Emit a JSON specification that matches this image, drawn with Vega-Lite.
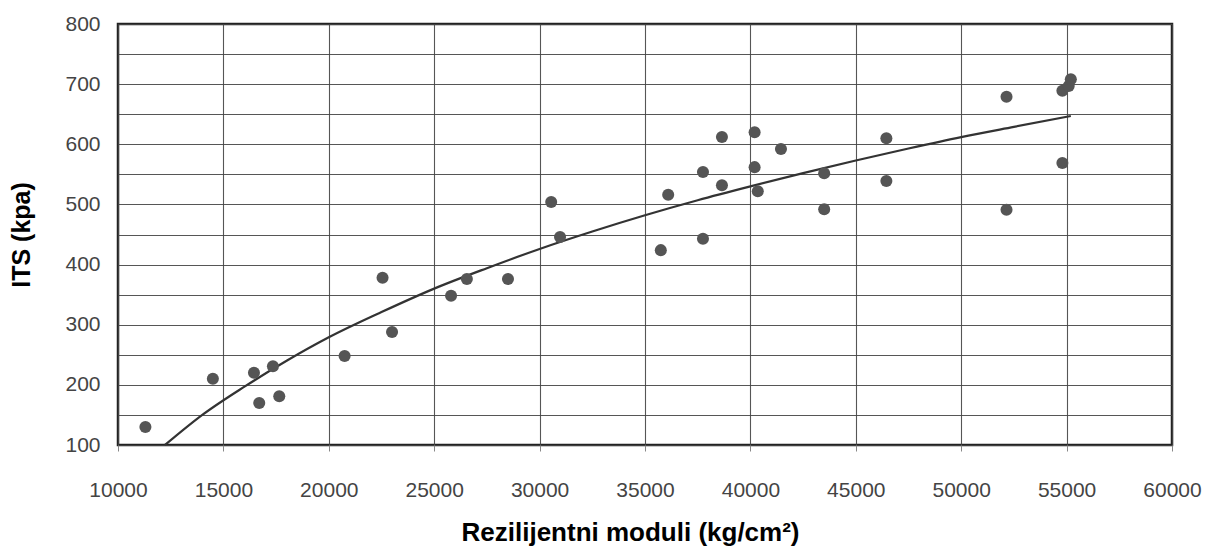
{
  "$schema": "https://vega.github.io/schema/vega-lite/v6.json",
  "width": 1054,
  "height": 421,
  "autosize": "none",
  "padding": {"left": 118, "top": 24, "right": 44, "bottom": 114},
  "background": "white",
  "config": {
    "view": {"stroke": "#222", "strokeWidth": 2.5},
    "font": "Liberation Sans"
  },
  "datasets": {
    "pts": [
      {"m": 11300, "its": 130}, {"m": 14500, "its": 210}, {"m": 16450, "its": 220},
      {"m": 16700, "its": 170}, {"m": 17350, "its": 231}, {"m": 17650, "its": 181},
      {"m": 20750, "its": 248}, {"m": 22550, "its": 378}, {"m": 23000, "its": 288},
      {"m": 25800, "its": 348}, {"m": 26550, "its": 376}, {"m": 28500, "its": 376},
      {"m": 30550, "its": 504}, {"m": 30970, "its": 446}, {"m": 35750, "its": 424},
      {"m": 36100, "its": 516}, {"m": 37750, "its": 554}, {"m": 37750, "its": 443},
      {"m": 38650, "its": 612}, {"m": 38650, "its": 532}, {"m": 40200, "its": 620},
      {"m": 40200, "its": 562}, {"m": 40350, "its": 522}, {"m": 41450, "its": 592},
      {"m": 43500, "its": 552}, {"m": 43500, "its": 492}, {"m": 46450, "its": 610},
      {"m": 46450, "its": 539}, {"m": 52150, "its": 679}, {"m": 52150, "its": 491},
      {"m": 54800, "its": 569}, {"m": 54800, "its": 689}, {"m": 55100, "its": 697},
      {"m": 55200, "its": 708}
    ],
    "curve": [
      {"m": 12230, "its": 100}, {"m": 14000, "its": 150}, {"m": 16000, "its": 197},
      {"m": 18000, "its": 240}, {"m": 20000, "its": 279}, {"m": 22500, "its": 321},
      {"m": 25000, "its": 360}, {"m": 27500, "its": 394}, {"m": 30000, "its": 426},
      {"m": 32500, "its": 455}, {"m": 35000, "its": 482}, {"m": 37500, "its": 507},
      {"m": 40000, "its": 530}, {"m": 42500, "its": 552}, {"m": 45000, "its": 573},
      {"m": 47500, "its": 593}, {"m": 50000, "its": 612}, {"m": 52500, "its": 629},
      {"m": 55200, "its": 647}
    ]
  },
  "encoding": {
    "x": {
      "field": "m", "type": "quantitative",
      "scale": {"domain": [10000, 60000], "nice": false, "zero": false},
      "axis": {
        "title": "Rezilijentni moduli (kg/cm²)",
        "values": [10000, 15000, 20000, 25000, 30000, 35000, 40000, 45000, 50000, 55000, 60000],
        "format": "d",
        "grid": true, "gridColor": "#444", "gridWidth": 1.1, "gridOpacity": 0.9,
        "domain": false,
        "ticks": true, "tickSize": 6, "tickColor": "#888",
        "labelFontSize": 21, "labelColor": "#444", "labelPadding": 28, "labelFlush": false,
        "titleFontSize": 26, "titleFontWeight": "bold", "titleColor": "#000",
        "titlePadding": 19, "titleX": 512, "titleFont": "Liberation Sans"
      }
    },
    "y": {
      "field": "its", "type": "quantitative",
      "scale": {"domain": [100, 800], "nice": false, "zero": false},
      "axis": {
        "title": "ITS (kpa)",
        "values": [100, 150, 200, 250, 300, 350, 400, 450, 500, 550, 600, 650, 700, 750, 800],
        "labelExpr": "datum.value % 100 == 0 ? datum.label : ''",
        "grid": true, "gridColor": "#444", "gridWidth": 1.2, "gridOpacity": 0.9,
        "domain": false,
        "ticks": false,
        "labelFontSize": 21, "labelColor": "#444", "labelPadding": 18,
        "titleFontSize": 25, "titleFontWeight": "bold", "titleColor": "#000",
        "titlePadding": 30, "titleFont": "Liberation Sans"
      }
    }
  },
  "layer": [
    {
      "data": {"name": "curve"},
      "mark": {"type": "line", "color": "#333", "strokeWidth": 2.2, "interpolate": "monotone"}
    },
    {
      "data": {"name": "pts"},
      "mark": {"type": "circle", "color": "#555", "opacity": 1, "size": 145}
    }
  ]
}
